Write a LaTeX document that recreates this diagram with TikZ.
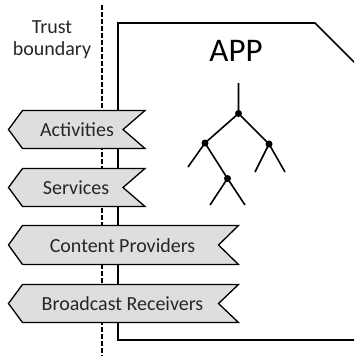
\documentclass[tikz,border=0pt]{standalone}
\usepackage{fontspec}
\setmainfont{Carlito}
\begin{document}
\begin{tikzpicture}[x=1pt,y=-1pt,
  appline/.style={line width=1.7pt, black},
  banner/.style={draw=black, line width=1.3pt, fill=black!13, line join=miter},
  label/.style={inner sep=0pt, font=\fontsize{20}{22}\selectfont, text=black!85},
  bannertext/.style={label, anchor=base},
  treeline/.style={line width=1.6pt, black},
  treedot/.style={circle, fill=black, inner sep=0pt, minimum size=7pt},
  boundary/.style={line width=1.7pt, dash pattern=on 4.5pt off 2.5pt}]
\useasboundingbox (0,0) rectangle (354,356);

% application outline with a cut corner, clipped at the picture edge
\begin{scope}
  \clip (0,0) rectangle (354,356);
  \draw[appline] (380,340) -- (118,340) -- (118,23) -- (315,23) -- (380,88);
\end{scope}
\node[anchor=base, inner sep=0pt, font=\fontsize{33}{38}\selectfont] (app) at (236,61.5) {APP};

% trust boundary
\coordinate (tbtop) at (102,5);
\coordinate (tbbot) at (102,356);
\draw[boundary] (tbtop) -- (tbbot);
\node[label, anchor=base] (trust) at (52,33) {Trust};
\node[label, anchor=base] (bnd) at (52,55) {boundary};

% component tree
\coordinate (stem) at (238.5,83);
\node[treedot] (r) at (238.5,113.5) {};
\node[treedot] (a) at (205,143) {};
\node[treedot] (b) at (269,144) {};
\node[treedot] (c) at (227.5,178.5) {};
\coordinate (a1) at (188,167);
\coordinate (b1) at (255,172);
\coordinate (b2) at (285,172);
\coordinate (c1) at (210,205);
\coordinate (c2) at (245,205);
\draw[treeline] (stem) -- (r.center) (r.center) -- (a.center) (r.center) -- (b.center)
  (a.center) -- (a1) (a.center) -- (c.center) (b.center) -- (b1) (b.center) -- (b2)
  (c.center) -- (c1) (c.center) -- (c2);

% entry points crossing the boundary
\draw[banner] (8.5,129.5) -- (22.5,110.5) -- (145,110.5) -- (123,129.5) -- (145,148.5) -- (22.5,148.5) -- cycle;
\node[bannertext] (act) at (77,136.5) {Activities};

\draw[banner] (8.5,187.5) -- (22.5,168.5) -- (145,168.5) -- (123,187.5) -- (145,206.5) -- (22.5,206.5) -- cycle;
\node[bannertext] (srv) at (76,194.5) {Services};

\draw[banner] (8.5,245) -- (22.5,225.5) -- (238.5,225.5) -- (218.5,245) -- (238.5,264.5) -- (22.5,264.5) -- cycle;
\node[bannertext] (cp) at (122.5,252) {Content Providers};

\draw[banner] (8.5,303.5) -- (22.5,284.5) -- (238.5,284.5) -- (218.5,303.5) -- (238.5,322.5) -- (22.5,322.5) -- cycle;
\node[bannertext] (br) at (122.5,310.5) {Broadcast Receivers};
\end{tikzpicture}
\end{document}
